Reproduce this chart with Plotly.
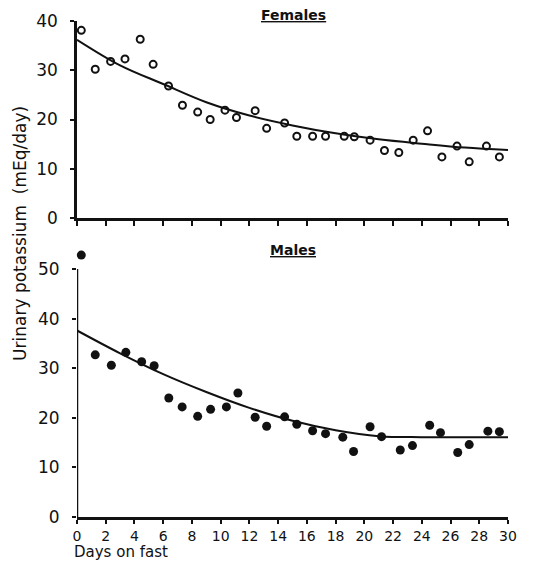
import plotly.graph_objects as go

# Female data (open circles)
fem_days = [0.3, 1.27, 2.34, 3.34, 4.4, 5.3, 6.37, 7.34, 8.4, 9.27, 10.3, 11.1, 12.4, 13.2,
            14.45, 15.3, 16.4, 17.3, 18.6, 19.3, 20.4, 21.4, 22.4, 23.4, 24.4, 25.4, 26.45,
            27.3, 28.5, 29.4]
fem_vals = [38.1, 30.2, 31.8, 32.3, 36.3, 31.2, 26.8, 22.9, 21.5, 20.0, 21.9, 20.4, 21.8, 18.2,
            19.3, 16.6, 16.6, 16.6, 16.6, 16.5, 15.8, 13.7, 13.3, 15.8, 17.7, 12.4, 14.6,
            11.4, 14.6, 12.4]
fem_curve_days = [0, 3, 6, 9, 12, 15, 18, 21, 24, 27, 30]
fem_curve_vals = [36.2, 31.0, 27.2, 23.5, 20.8, 18.8, 17.2, 16.0, 15.1, 14.3, 13.8]

# Male data (filled circles)
male_days = [0.3, 1.27, 2.39, 3.4, 4.5, 5.37, 6.39, 7.32, 8.4, 9.3, 10.4, 11.2, 12.4, 13.2,
             14.45, 15.3, 16.4, 17.3, 18.5, 19.25, 20.4, 21.2, 22.5, 23.35, 24.55, 25.3, 26.5,
             27.3, 28.6, 29.4]
male_vals = [52.8, 32.7, 30.6, 33.2, 31.3, 30.5, 24.0, 22.2, 20.3, 21.7, 22.2, 25.0, 20.1, 18.3,
             20.2, 18.7, 17.4, 16.8, 16.1, 13.2, 18.2, 16.2, 13.5, 14.4, 18.5, 17.0, 13.0,
             14.6, 17.3, 17.2]
male_curve_days = [0, 3, 6, 9, 12, 15, 18, 21, 24, 27, 30]
male_curve_vals = [37.6, 33.0, 28.8, 25.2, 22.0, 19.4, 17.5, 16.3, 16.1, 16.1, 16.1]

x_ticks = list(range(0, 31, 2))
fem_yticks = [0, 10, 20, 30, 40]
male_yticks = [0, 10, 20, 30, 40, 50]

FONT = "DejaVu Sans"
BLACK = "#111111"

fig = go.Figure()

fig.add_trace(go.Scatter(x=fem_curve_days, y=fem_curve_vals, mode="lines",
                         line=dict(color=BLACK, width=2, shape="spline"),
                         xaxis="x", yaxis="y", showlegend=False, cliponaxis=False))
fig.add_trace(go.Scatter(x=fem_days, y=fem_vals, mode="markers",
                         marker=dict(symbol="circle-open", size=7, color=BLACK,
                                     line=dict(width=2, color=BLACK)),
                         xaxis="x", yaxis="y", showlegend=False, cliponaxis=False))
fig.add_trace(go.Scatter(x=male_curve_days, y=male_curve_vals, mode="lines",
                         line=dict(color=BLACK, width=2, shape="spline"),
                         xaxis="x2", yaxis="y2", showlegend=False, cliponaxis=False))
fig.add_trace(go.Scatter(x=male_days, y=male_vals, mode="markers",
                         marker=dict(symbol="circle", size=9, color=BLACK),
                         xaxis="x2", yaxis="y2", showlegend=False, cliponaxis=False))

axis_common = dict(showline=True, linecolor=BLACK, linewidth=2.5, showgrid=False,
                   zeroline=False, ticks="outside", ticklen=4, tickwidth=2, tickcolor=BLACK,
                   tickfont=dict(family=FONT, size=14, color=BLACK))
ytick_font = dict(family=FONT, size=17, color=BLACK)

male_top = max(male_yticks)
male_range_top = 54

fig.update_layout(
    width=545, height=562,
    margin=dict(l=77, r=37, t=21, b=45),
    paper_bgcolor="white", plot_bgcolor="white",
    xaxis=dict(axis_common, domain=[0, 1], range=[0, 30], tickvals=x_ticks,
               showticklabels=False, anchor="y", ticklen=5),
    yaxis=dict(axis_common, domain=[0.6028, 1.0], range=[0, 40], tickvals=fem_yticks,
               anchor="x", ticklabelstandoff=9, ticklen=4, tickfont=ytick_font),
    xaxis2=dict(axis_common, domain=[0, 1], range=[0, 30], tickvals=x_ticks,
                anchor="y2", ticklabelstandoff=0),
    yaxis2=dict(axis_common, domain=[0, 0.5 * male_range_top / male_top],
                range=[0, male_range_top], tickvals=male_yticks, showline=False,
                anchor="x2", ticklabelstandoff=9, ticklen=4, tickfont=ytick_font),
    shapes=[
        dict(type="line", xref="x2", yref="y2", x0=0, x1=0, y0=0, y1=male_top,
             line=dict(color=BLACK, width=2.5), layer="above"),
    ],
    annotations=[
        dict(text="<b>Females</b>", xref="paper", yref="paper", x=0.502, y=1.012,
             showarrow=False, xanchor="center", yanchor="middle",
             font=dict(family=FONT, size=14, color=BLACK, lineposition="under")),
        dict(text="<b>Males</b>", xref="paper", yref="paper", x=0.502, y=0.538,
             showarrow=False, xanchor="center", yanchor="middle",
             font=dict(family=FONT, size=14, color=BLACK, lineposition="under")),
        dict(text="Urinary potassium  (mEq/day)", xref="paper", yref="paper", x=-0.132,
             y=0.571, showarrow=False, textangle=-90, xanchor="center", yanchor="middle",
             font=dict(family=FONT, size=17, color=BLACK)),
        dict(text="Days on fast", xref="paper", yref="paper", x=-0.01, y=-0.0905,
             showarrow=False, xanchor="left", yanchor="bottom", borderpad=0,
             font=dict(family=FONT, size=15, color=BLACK)),
    ],
)

fig.write_html("out.html", config={"displayModeBar": False},
               post_script="document.body.style.margin='0';document.body.style.padding='0';")
